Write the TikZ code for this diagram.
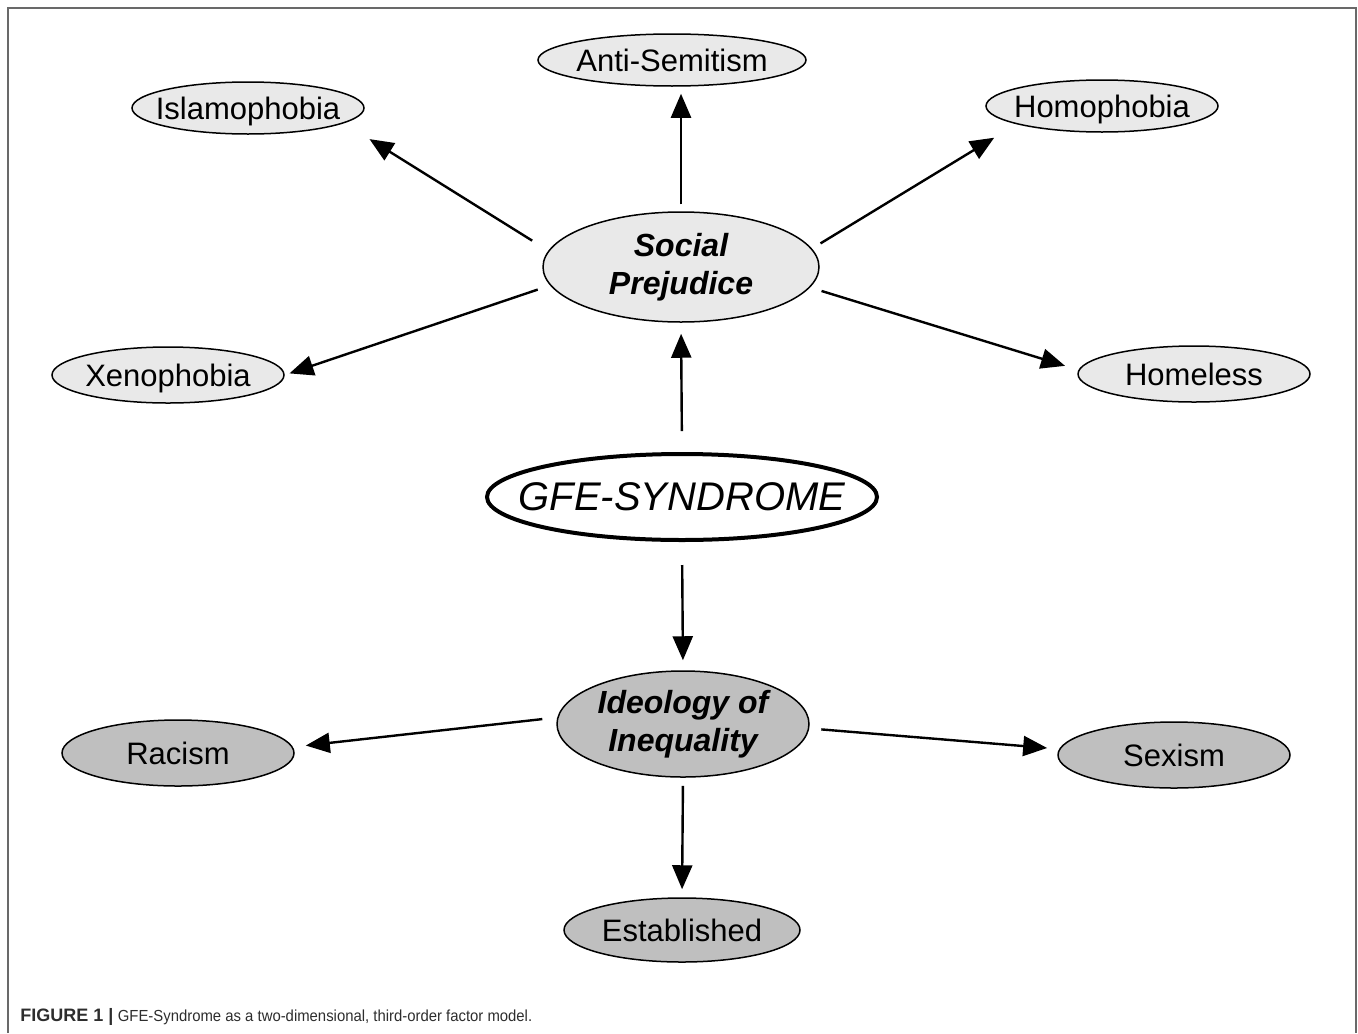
\documentclass[tikz,border=0pt]{standalone}
\usepackage{fontspec}
\setmainfont{Liberation Sans}
\usetikzlibrary{arrows.meta,positioning,shapes.geometric}
\definecolor{facetgray}{RGB}{233,233,233}
\definecolor{ineqgray}{RGB}{191,191,191}
\definecolor{framegray}{RGB}{105,105,105}
\definecolor{captiongray}{RGB}{45,45,45}

\begin{document}
\begin{tikzpicture}[x=0.5pt,y=-0.5pt,
    facet/.style={ellipse,draw,line width=0.75pt,fill=facetgray,inner sep=0pt,
      minimum width=116pt,minimum height=26pt,
      label={[inner sep=0pt,text height=11pt,text depth=0pt,font=\fontsize{15.5}{18}\selectfont]center:#1}},
    facetdark/.style={facet=#1,fill=ineqgray,minimum height=33pt},
    factor/.style={ellipse,draw,line width=0.75pt,fill=facetgray,inner sep=0pt,
      minimum width=138pt,minimum height=55pt,
      label={[inner sep=0pt,align=center,font=\fontsize{16}{19}\selectfont\bfseries\itshape]center:#1}},
    root/.style={ellipse,draw,line width=2pt,fill=white,inner sep=0pt,
      minimum width=195pt,minimum height=43pt,
      label={[inner sep=0pt,font=\fontsize{20}{24}\selectfont\itshape]center:#1}},
    link/.style={-{Triangle[length=12pt,width=10pt]},line width=1.2pt}]
  \useasboundingbox (0,0) rectangle (1358,1033);
  \draw[framegray,line width=1pt] (8,1033) -- (8,8) -- (1356,8) -- (1356,1033);

  % second-order factors and the syndrome
  \node[root=GFE-SYNDROME] (GFE) at (682,497) {};
  \node[factor={Social\\Prejudice}] (SP) at (681,267) {};
  \node[factor={Ideology of\\Inequality},fill=ineqgray,minimum width=126pt,minimum height=53pt] (II) at (683,724) {};

  % first-order factors
  \node[facet=Anti-Semitism,minimum width=134pt] (AS) at (672,60) {};
  \node[facet=Islamophobia] (IS) at (248,108) {};
  \node[facet=Homophobia] (HO) at (1102,106) {};
  \node[facet=Xenophobia,minimum height=28pt] (XE) at (168,375) {};
  \node[facet=Homeless,minimum height=28pt] (HL) at (1194,374) {};
  \node[facetdark=Racism] (RA) at (178,753) {};
  \node[facetdark=Sexism] (SE) at (1174,755) {};
  \node[facetdark=Established,minimum width=118pt,minimum height=32pt] (ES) at (682,930) {};

  \draw[link,shorten <=10.5pt,shorten >=5.5pt] (GFE.north) -- (SP.south);
  \draw[link,shorten <=11.5pt,shorten >=5pt] (GFE.south) -- (II.north);

  \draw[link,shorten <=3.5pt,shorten >=3.5pt] (SP.north) -- (SP.north |- AS.south);
  \draw[link,shorten <=9.5pt,shorten >=15pt] (SP.173) -- (IS.-9);
  \draw[link,shorten <=5pt,shorten >=13pt] (SP.8.8) -- (HO.-168.3);
  \draw[link,shorten <=6.5pt,shorten >=2.5pt] (SP.188.8) -- (XE.0.8);
  \draw[link,shorten <=6pt,shorten >=7pt] (SP.-9.2) -- (HL.178);

  \draw[link,shorten <=7.5pt,shorten >=6.5pt] (II.177.4) -- (RA.3.3);
  \draw[link,shorten <=6pt,shorten >=6pt] (II.-2.3) -- (SE.177);
  \draw[link,shorten <=4pt,shorten >=4pt] (II.south) -- (ES.north);

  \node[anchor=west,text=captiongray,inner sep=0pt,font=\fontsize{8}{10}\selectfont] (caption) at (20,1017)
    {{\fontsize{9}{10}\selectfont\bfseries FIGURE 1 |} \scalebox{0.93}[1]{GFE-Syndrome as a two-dimensional, third-order factor model.}};
\end{tikzpicture}
\end{document}
